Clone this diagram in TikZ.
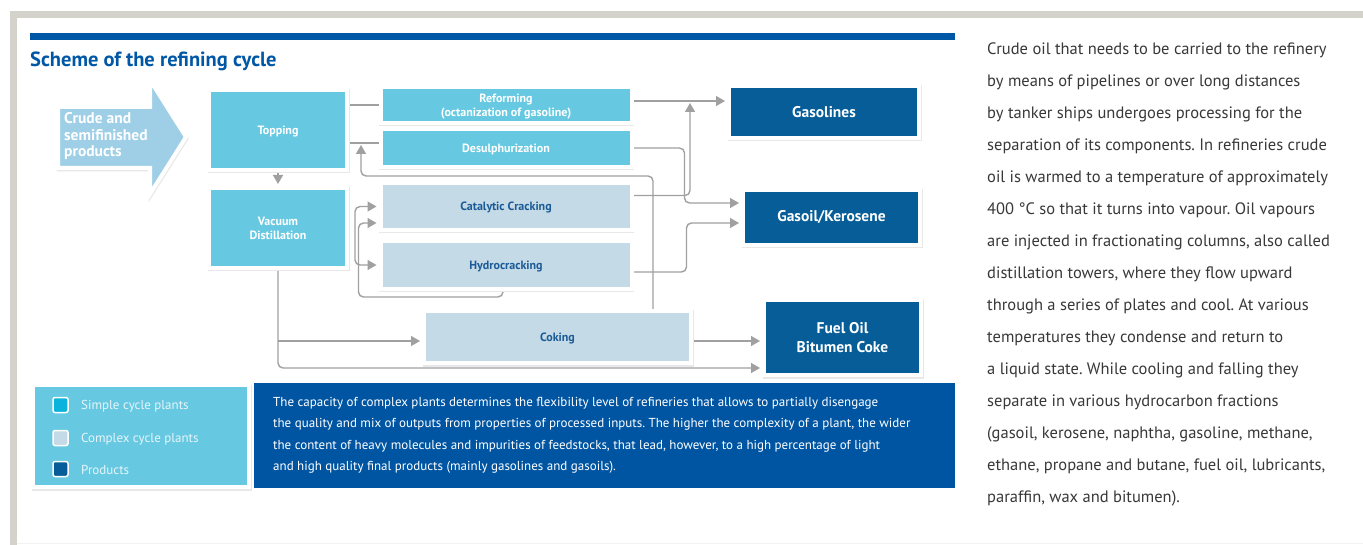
\documentclass[tikz,border=0pt]{standalone}
\usepackage{fontspec}
\setmainfont{PT Sans}
\usetikzlibrary{arrows.meta,shadows,backgrounds}

\definecolor{simplec}{HTML}{66C9E1}
\definecolor{complexc}{HTML}{C4DAE6}
\definecolor{productc}{HTML}{065D98}
\definecolor{complextext}{HTML}{1B5B97}
\definecolor{titleblue}{HTML}{0057A5}
\definecolor{panelblue}{HTML}{0055A3}
\definecolor{crudec}{HTML}{9ECFE7}
\definecolor{linegray}{HTML}{A0A0A0}
\definecolor{framegray}{HTML}{D3D3CB}
\definecolor{keysimple}{HTML}{0BB2DC}
\definecolor{keytext}{HTML}{E6F5FA}
\definecolor{bodytext}{HTML}{383838}
\frenchspacing

\begin{document}
\begin{tikzpicture}[x=1pt,y=-1pt,
   box/.style={draw=white, line width=4pt, inner sep=0pt, align=center,
      general shadow={fill=black!9, draw=black!9, line width=4pt, shadow xshift=0.5pt, shadow yshift=-1.5pt}},
   simple/.style={box, fill=simplec, text=white, text depth=0pt, font=\fontsize{12}{14}\selectfont\bfseries},
   complex/.style={simple, fill=complexc, text=complextext},
   product/.style={box, fill=productc, text=white, font=\fontsize{15.5}{19}\selectfont\bfseries},
   link/.style={draw=linegray, line width=1.4pt, rounded corners=5pt},
   flow/.style={link, -{Triangle[length=9pt,width=10pt]}, shorten >=2pt},
   keysq/.style={draw=white, line width=1.5pt, rounded corners=2pt, minimum size=15pt, inner sep=0pt},
   keytxt/.style={anchor=base west, inner sep=0pt, text=keytext, font=\fontsize{13}{15}\selectfont},
   ]
\useasboundingbox (0,0) rectangle (1363,545);
\begin{scope}[on background layer]
  \fill[white] (0,0) rectangle (1363,545);
  \fill[framegray] (10,11) rectangle (1363,18);
  \fill[framegray] (10,11) rectangle (17,545);
  \draw[black!5] (17,543.5) -- (1363,543.5);
\end{scope}

\fill[titleblue] (30,33) rectangle (955,40);
\node[anchor=base west, inner sep=0pt, text=titleblue, font=\fontsize{20.5}{22}\selectfont\bfseries] (title) at (30,67) {Scheme of the refining cycle};

\fill[crudec, draw=white, line width=4pt,
   general shadow={fill=black!9, draw=black!9, line width=4pt, shadow xshift=0.5pt, shadow yshift=-1.5pt}]
   (58,107) -- (150,107) -- (150,80) -- (186,137) -- (150,194) -- (150,168) -- (58,168) -- cycle;
\node[anchor=west, align=left, inner sep=0pt, text=white, font=\fontsize{15.5}{16.5}\selectfont\bfseries] (crude) at (64,136.5) {Crude and\\semifinished\\products};

\node[simple, minimum width=138pt, minimum height=80pt] (top) at (278,130) {Topping};
\node[simple, minimum width=138pt, minimum height=80pt] (vd) at (278,228) {Vacuum\\Distillation};
\node[simple, minimum width=251pt, minimum height=36pt] (ref) at (506,105) {Reforming\\(octanization of gasoline)};
\node[simple, minimum width=251pt, minimum height=38pt] (des) at (506,148) {Desulphurization};
\node[complex, minimum width=251pt, minimum height=47pt] (cc) at (506,206.5) {Catalytic Cracking};
\node[complex, minimum width=251pt, minimum height=48pt] (hc) at (506,265) {Hydrocracking};
\node[complex, minimum width=267pt, minimum height=52pt] (cok) at (557.5,337) {Coking};
\node[product, minimum width=190pt, minimum height=52pt] (gas) at (824,112) {Gasolines};
\node[product, minimum width=177pt, minimum height=55pt] (gko) at (831.5,217.5) {Gasoil/Kerosene};
\node[product, minimum width=157pt, minimum height=75pt] (fuel) at (842.5,337.5) {Fuel Oil\\Bitumen Coke};

\coordinate (gasjoin) at (690,101);
\coordinate (back) at (653,176);
\begin{scope}[on background layer]
  \draw[flow] (top) -- (vd);
  \draw[link] (top.east |- ref.west) -- (ref.west);
  \draw[link] ([yshift=5pt]top.east |- des.west) -- ([yshift=5pt]des.west);
  \draw[flow] ([yshift=4pt]ref.east) -- ([yshift=4pt]ref.east -| gas.west);
  \draw[flow] ([yshift=11pt]cc.east) -| (gasjoin);
  \draw[flow] (des.east) -- ++(51,0) |- ([yshift=14.5pt]gko.west);
  \draw[flow] ([yshift=-7pt]hc.east) -- ++(53,0) |- ([yshift=-5.5pt]gko.west);
  \draw[flow] (back |- cok.north) -- (back) -| ([xshift=12pt,yshift=5pt]top.east |- des.west);
  \draw[flow] ([xshift=6pt]vd.east) |- (cc.west);
  \draw[flow] ([xshift=6pt]vd.east) |- (hc.west);
  \draw[flow] ([xshift=-3pt]hc.south) -- ++(0,6) -| ([xshift=-20pt,yshift=-16.5pt]cc.west) -- ([yshift=-16.5pt]cc.west);
  \draw[flow] (vd.south) |- ([yshift=-30.5pt]fuel.west);
  \draw[flow] ([yshift=-4pt]vd.south |- cok.west) -- ([yshift=-4pt]cok.west);
  \draw[flow] ([yshift=-4pt]cok.east) -- ([yshift=-4pt]cok.east -| fuel.west);
\end{scope}

\node[box, fill=simplec, minimum width=216pt, minimum height=102pt] (legend) at (141,436) {};
\node[keysq, fill=keysimple] (ksimple) at (60.5,405) {};
\node[keysq, fill=complexc] (kcomplex) at (60.5,438) {};
\node[keysq, fill=productc] (kproduct) at (60.5,469) {};
\node[keytxt] (lsimple) at (81,409.5) {Simple cycle plants};
\node[keytxt] (lcomplex) at (81,442) {Complex cycle plants};
\node[keytxt] (lproduct) at (81,474) {Products};

\node[fill=panelblue, inner sep=0pt, minimum width=701pt, minimum height=105pt] (panel) at (604.5,435.5) {};
\node[anchor=north west, align=left, inner sep=0pt, text=white, font=\fontsize{13}{21.3}\selectfont] (note) at (273,397)
  {The capacity of complex plants determines the flexibility level of refineries that allows to partially disengage\\
   the quality and mix of outputs from properties of processed inputs. The higher the complexity of a plant, the wider\\
   the content of heavy molecules and impurities of feedstocks, that lead, however, to a high percentage of light\\
   and high quality final products (mainly gasolines and gasoils).};

\node[anchor=north west, align=left, inner sep=0pt, text=bodytext, font=\fontsize{16.5}{32}\selectfont] (story) at (987,42.5)
  {Crude oil that needs to be carried to the refinery\\
   by means of pipelines or over long distances\\
   by tanker ships undergoes processing for the\\
   separation of its components. In refineries crude\\
   oil is warmed to a temperature of approximately\\
   400 °C so that it turns into vapour. Oil vapours\\
   are injected in fractionating columns, also called\\
   distillation towers, where they flow upward\\
   through a series of plates and cool. At various\\
   temperatures they condense and return to\\
   a liquid state. While cooling and falling they\\
   separate in various hydrocarbon fractions\\
   (gasoil, kerosene, naphtha, gasoline, methane,\\
   ethane, propane and butane, fuel oil, lubricants,\\
   paraffin, wax and bitumen).};
\end{tikzpicture}
\end{document}
